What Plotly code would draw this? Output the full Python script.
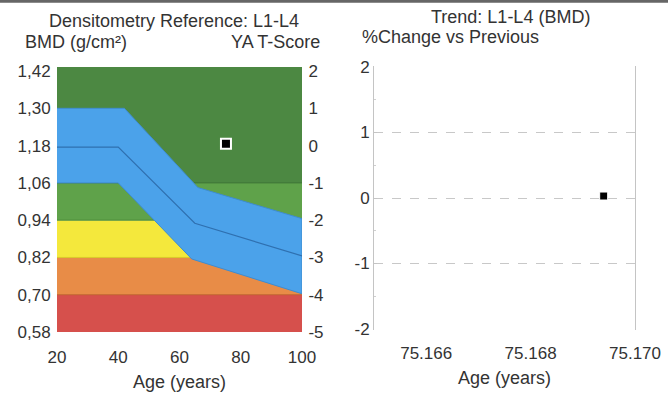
import plotly.graph_objects as go

# ---------------- data ----------------
age_axis = [20, 100]
bmd_ticks = [0.58, 0.70, 0.82, 0.94, 1.06, 1.18, 1.30, 1.42]
bmd_ticktext = ["0,58", "0,70", "0,82", "0,94", "1,06", "1,18", "1,30", "1,42"]
tscore_ticks = [-5, -4, -3, -2, -1, 0, 1, 2]
tscore_ticktext = ["-5", "-4", "-3", "-2", "-1", "0", "1", "2"]
age_ticks = [20, 40, 60, 80, 100]

# T-score band boundaries (BMD)
band_edges = [0.58, 0.70, 0.82, 0.94, 1.06, 1.44]
band_colors = ["#d6504c", "#e88c47", "#f4e83c", "#5fa24a", "#4c8842"]
band_line_colors = ["#b8403a", "#c0602a", "#d8c828", "#4a8a3a", "#3f7536"]

# Age-matched reference curve (mean +/- 1 SD)
ref_age_upper = [20, 42, 66, 100]
ref_bmd_upper = [1.30, 1.30, 1.045, 0.945]
ref_age_mean = [20, 40, 65, 100]
ref_bmd_mean = [1.175, 1.175, 0.93, 0.825]
ref_age_lower = [20, 40, 64, 100]
ref_bmd_lower = [1.06, 1.06, 0.815, 0.703]

# patient measurement
pt_age = [75.1694]
pt_bmd = [1.186]

# trend chart
trend_age = [75.1694]
trend_change = [0.03]
trend_xticks = [75.166, 75.168, 75.170]
trend_xticktext = ["75.166", "75.168", "75.170"]
trend_yticks = [-2, -1, 0, 1, 2]
trend_yticktext = ["-2", "-1", "0", "1", "2"]

FONT = "Liberation Sans, Arial, sans-serif"
TXT = "#333333"
FS_TICK = 17
FS_TITLE = 18

fig = go.Figure()

# bands
for i in range(len(band_colors)):
    lo, hi = band_edges[i], band_edges[i + 1]
    fig.add_trace(go.Scatter(
        x=[age_axis[0], age_axis[1], age_axis[1], age_axis[0], age_axis[0]],
        y=[lo, lo, hi, hi, lo],
        fill="toself", fillcolor=band_colors[i], mode="none",
        hoverinfo="skip", showlegend=False, xaxis="x", yaxis="y"))
for i in range(1, len(band_edges) - 1):
    fig.add_trace(go.Scatter(
        x=age_axis, y=[band_edges[i], band_edges[i]], mode="lines",
        line=dict(color=band_line_colors[i], width=1),
        hoverinfo="skip", showlegend=False, xaxis="x", yaxis="y"))

# reference band
fig.add_trace(go.Scatter(
    x=ref_age_upper + ref_age_lower[::-1],
    y=ref_bmd_upper + ref_bmd_lower[::-1],
    fill="toself", fillcolor="#4ba2ea", mode="lines",
    line=dict(color="#3f8ccf", width=1),
    hoverinfo="skip", showlegend=False, xaxis="x", yaxis="y"))
fig.add_trace(go.Scatter(
    x=ref_age_mean, y=ref_bmd_mean, mode="lines",
    line=dict(color="#2f70b0", width=1.2),
    hoverinfo="skip", showlegend=False, xaxis="x", yaxis="y"))

# patient
fig.add_trace(go.Scatter(
    x=pt_age, y=pt_bmd, mode="markers",
    marker=dict(symbol="square", size=10, color="black",
                line=dict(color="white", width=2)),
    showlegend=False, xaxis="x", yaxis="y"))

# invisible trace for T-score axis
fig.add_trace(go.Scatter(
    x=age_axis, y=[tscore_ticks[0], tscore_ticks[-1]], mode="none",
    hoverinfo="skip", showlegend=False, xaxis="x", yaxis="y2"))

# trend chart
fig.add_trace(go.Scatter(
    x=trend_age, y=trend_change, mode="markers",
    marker=dict(symbol="square", size=8, color="black",
                line=dict(color="white", width=1)),
    showlegend=False, xaxis="x3", yaxis="y3"))

tickfont = dict(family=FONT, size=FS_TICK, color=TXT)
titlefont = dict(family=FONT, size=FS_TITLE, color=TXT)

fig.update_layout(
    template="none",
    width=668, height=394,
    margin=dict(l=0, r=0, t=0, b=0, pad=0),
    paper_bgcolor="white", plot_bgcolor="white",
    font=dict(family=FONT, color=TXT, size=FS_TICK),
    xaxis=dict(domain=[57 / 668, 302 / 668], range=age_axis, automargin=False,
               tickvals=age_ticks, showgrid=False, zeroline=False, showline=False,
               ticks="outside", ticklen=10, tickcolor="rgba(0,0,0,0)",
               tickfont=tickfont, anchor="y",
               title=dict(text="Age (years)", font=titlefont, standoff=8)),
    yaxis=dict(domain=[1 - 332 / 394, 1 - 67 / 394], range=[0.58, 1.433], automargin=False,
               tickvals=bmd_ticks, ticktext=bmd_ticktext,
               showgrid=False, zeroline=False, showline=False,
               ticks="outside", ticklen=2, tickcolor="rgba(0,0,0,0)",
               tickfont=tickfont, anchor="x"),
    yaxis2=dict(domain=[1 - 332 / 394, 1 - 67 / 394], range=[-5, 2.107], automargin=False,
                overlaying="y", side="right",
                tickvals=tscore_ticks, ticktext=tscore_ticktext,
                showgrid=False, zeroline=False, showline=False,
                ticks="outside", ticklen=2, tickcolor="rgba(0,0,0,0)",
                tickfont=tickfont, anchor="x"),
    xaxis3=dict(domain=[374 / 668, 635 / 668], range=[75.165, 75.170], automargin=False,
                tickvals=trend_xticks, ticktext=trend_xticktext,
                showgrid=False, zeroline=False, showline=False,
                ticks="outside", ticklen=8, tickcolor="rgba(0,0,0,0)",
                tickfont=tickfont, anchor="y3",
                title=dict(text="Age (years)", font=titlefont, standoff=8)),
    yaxis3=dict(domain=[1 - 330 / 394, 1 - 66 / 394], range=[-2.015, 2.015], automargin=False,
                tickvals=trend_yticks, ticktext=trend_yticktext, showgrid=True,
                gridcolor="#c8c8c8", griddash="dash", gridwidth=1,
                zeroline=False, showline=True, linecolor="#c4c4c4", linewidth=1,
                mirror=True, ticks="inside", ticklen=3, tickcolor="#c4c4c4",
                minor=dict(dtick=0.5, ticks="inside", ticklen=2, tickcolor="#d0d0d0"),
                tickfont=tickfont, anchor="x3"),
    annotations=[
        dict(text="Densitometry Reference: L1-L4", x=174 / 668, y=1 - 21 / 394,
             xref="paper", yref="paper", showarrow=False, xanchor="center", yanchor="middle",
             font=titlefont),
        dict(text="BMD (g/cm²)", x=23 / 668, y=1 - 42 / 394,
             xref="paper", yref="paper", showarrow=False, xanchor="left", yanchor="middle",
             font=titlefont),
        dict(text="YA T-Score", x=322 / 668, y=1 - 42 / 394,
             xref="paper", yref="paper", showarrow=False, xanchor="right", yanchor="middle",
             font=titlefont),
        dict(text="Trend: L1-L4 (BMD)", x=511 / 668, y=1 - 17 / 394,
             xref="paper", yref="paper", showarrow=False, xanchor="center", yanchor="middle",
             font=titlefont),
        dict(text="%Change vs Previous", x=360 / 668, y=1 - 37 / 394,
             xref="paper", yref="paper", showarrow=False, xanchor="left", yanchor="middle",
             font=titlefont),
    ],
    shapes=[dict(type="line", xref="paper", yref="paper", x0=0, x1=1, y0=0.997, y1=0.997,
                 line=dict(color="#666666", width=3))],
)

fig.write_html("out.html", config={"displayModeBar": False},
               post_script="document.body.style.margin='0';document.body.style.padding='0';"
                           "document.documentElement.style.overflow='hidden';")
